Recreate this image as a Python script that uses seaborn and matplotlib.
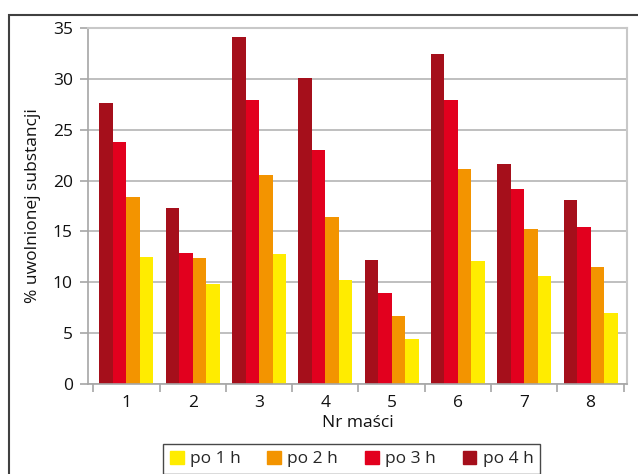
import matplotlib
matplotlib.use("Agg")
import matplotlib.pyplot as plt
import matplotlib.patches as mpatches
import numpy as np
import pandas as pd
import seaborn as sns

# values
masci = ["1", "2", "3", "4", "5", "6", "7", "8"]
po_1h = [12.5, 9.8, 12.8, 10.2, 4.4, 12.1, 10.6, 7.0]
po_2h = [18.4, 12.4, 20.5, 16.4, 6.7, 21.1, 15.2, 11.5]
po_3h = [23.8, 12.9, 27.9, 23.0, 8.9, 27.9, 19.2, 15.4]
po_4h = [27.6, 17.3, 34.1, 30.1, 12.2, 32.4, 21.6, 18.1]

series = {"po 1 h": po_1h, "po 2 h": po_2h, "po 3 h": po_3h, "po 4 h": po_4h}
colors = {"po 1 h": "#ffec00", "po 2 h": "#f39400",
          "po 3 h": "#e2001e", "po 4 h": "#a50f1b"}

df = pd.DataFrame([
    {"masc": m, "czas": name, "wartosc": v}
    for name, vals in series.items()
    for m, v in zip(masci, vals)
])

sns.set_style("white")
plt.rcParams["font.family"] = ["Open Sans", "DejaVu Sans"]

W, H = 638, 474
fig = plt.figure(figsize=(W / 100, H / 100), dpi=100)
ax = fig.add_axes([88 / W, 1 - 384 / H, (627 - 88) / W, (384 - 28) / H])

bar_order = ["po 4 h", "po 3 h", "po 2 h", "po 1 h"]
sns.barplot(data=df, x="masc", y="wartosc", hue="czas", hue_order=bar_order,
            order=masci, palette=colors, width=0.815, gap=0, saturation=1,
            linewidth=0, ax=ax, legend=False)

ax.set_ylim(0, 35)
ax.set_xlim(-0.58, 7.55)
ax.set_yticks(np.arange(0, 36, 5))
ax.set_axisbelow(True)
ax.yaxis.grid(True, color="#bfbfbf", lw=1.4)
ax.xaxis.grid(False)

for side in ["left", "bottom"]:
    ax.spines[side].set_color("#a6a6a6")
    ax.spines[side].set_linewidth(1.2)
for side in ["top", "right"]:
    ax.spines[side].set_visible(True)
    ax.spines[side].set_color("#c8c8c8")
    ax.spines[side].set_linewidth(1.5)

ax.tick_params(axis="y", length=6, width=1.2, color="#a6a6a6", pad=5,
               labelsize=12.5, labelcolor="#111111", left=True)
ax.tick_params(axis="x", which="major", length=0, pad=8, labelsize=12.5,
               labelcolor="#111111")
ax.set_xticks(np.arange(-0.5, 8, 1), minor=True)
ax.tick_params(axis="x", which="minor", length=6, width=1.2,
               color="#a6a6a6", bottom=True)

ax.set_ylabel("% uwolnionej substancji", fontsize=12.5, color="#111111")
ax.yaxis.set_label_coords(-0.088, 0.5)
ax.set_xlabel("Nr maści", fontsize=12.5, color="#111111")
ax.xaxis.set_label_coords(0.5, -0.088)

handles = [mpatches.Patch(color=colors[n]) for n in series]
fig.legend(handles, list(series), loc="lower center",
           bbox_to_anchor=(351.5 / W, 0), ncol=4, frameon=True,
           fancybox=False, edgecolor="#1a1a1a", fontsize=12.5,
           handlelength=0.8, handleheight=0.8, handletextpad=0.35,
           columnspacing=1.55, borderaxespad=0, borderpad=0.38)

# outer chart frame, cut off at right and bottom as in the source
frame = mpatches.Rectangle((9 / W, -0.1), 1.2, (H - 15) / H + 0.1,
                           transform=fig.transFigure, fill=False,
                           edgecolor="#404040", lw=1.5)
fig.add_artist(frame)

fig.savefig("out.png", dpi=100)
